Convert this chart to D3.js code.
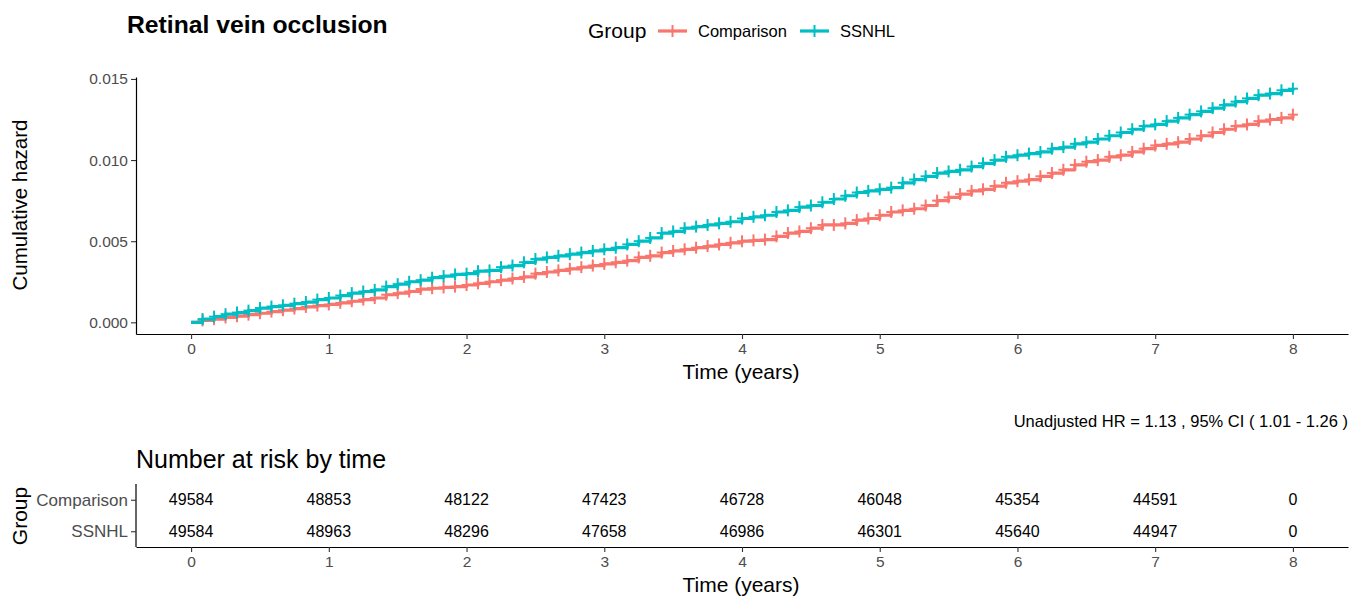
<!DOCTYPE html>
<html>
<head>
<meta charset="utf-8">
<script src="https://cdn.jsdelivr.net/npm/d3@7"></script>
<style>
  body { margin: 0; background: #fff; }
  svg { display: block; font-family: "Liberation Sans", Arial, sans-serif; }
</style>
</head>
<body>
<svg id="chart" width="1364" height="598"></svg>
<script>
// ---- Data ----
const groups = ["Comparison", "SSNHL"];
const groupColors = ["#F8766D", "#00BFC4"];
// monthly time points (months since index)
const months = [0,1,2,3,4,5,6,7,8,9,10,11,12,13,14,15,16,17,18,19,20,21,22,23,24,25,26,27,28,29,30,31,32,33,34,35,36,37,38,39,40,41,42,43,44,45,46,47,48,49,50,51,52,53,54,55,56,57,58,59,60,61,62,63,64,65,66,67,68,69,70,71,72,73,74,75,76,77,78,79,80,81,82,83,84,85,86,87,88,89,90,91,92,93,94,95,96];
const comparisonHazard = [0,0.00012,0.0002,0.0003,0.00038,0.00047,0.00056,0.00066,0.00075,0.00085,0.00095,0.00103,
  0.0011,0.0012,0.0013,0.0014,0.0015,0.0017,0.0018,0.0019,0.00205,0.0021,0.00215,0.0022,
  0.0023,0.0024,0.0025,0.0026,0.0027,0.0028,0.003,0.0031,0.0032,0.0033,0.0034,0.0035,
  0.0036,0.0037,0.0038,0.004,0.0041,0.0043,0.0044,0.0045,0.0046,0.0047,0.0048,0.0049,
  0.005,0.00505,0.0051,0.0053,0.0055,0.0056,0.0058,0.006,0.006,0.0061,0.0063,0.0064,
  0.0066,0.0068,0.0069,0.007,0.0072,0.0075,0.0077,0.0079,0.0081,0.0082,0.0084,0.0086,
  0.0087,0.0088,0.009,0.0092,0.0094,0.0097,0.0099,0.01,0.0102,0.0103,0.0105,0.0107,
  0.0109,0.011,0.0111,0.0113,0.0115,0.0117,0.0119,0.0121,0.0122,0.0124,0.0125,0.0126,
  0.0128];
const ssnhlHazard = [0,0.0002,0.00035,0.0005,0.0006,0.00072,0.00088,0.00097,0.00105,0.00115,0.00125,0.0014,
  0.0015,0.00165,0.0018,0.0019,0.002,0.0022,0.00235,0.0025,0.0026,0.00275,0.00285,0.00295,
  0.003,0.00315,0.0032,0.0034,0.0035,0.0037,0.0039,0.004,0.0041,0.0042,0.0043,0.0044,
  0.0045,0.0046,0.0048,0.005,0.0052,0.0055,0.0056,0.0058,0.0059,0.006,0.0061,0.0062,
  0.0064,0.0065,0.0066,0.0068,0.0069,0.0071,0.0072,0.0074,0.0076,0.0078,0.008,0.0081,
  0.0082,0.0083,0.0086,0.0088,0.009,0.0092,0.0093,0.0094,0.0096,0.0098,0.01,0.0102,
  0.0103,0.0104,0.0105,0.0107,0.0108,0.011,0.0111,0.0113,0.0115,0.0117,0.0119,0.0121,
  0.0122,0.0124,0.0126,0.0128,0.013,0.0132,0.0134,0.0136,0.0138,0.014,0.0141,0.0143,
  0.0144];
const xTicks = [0,1,2,3,4,5,6,7,8];
const yTicks = [0, 0.005, 0.010, 0.015];
const riskTimes = [0,1,2,3,4,5,6,7,8];
const comparisonRisk = [49584,48853,48122,47423,46728,46048,45354,44591,0];
const ssnhlRisk = [49584,48963,48296,47658,46986,46301,45640,44947,0];
const titleText = "Retinal vein occlusion";
const hrText = "Unadjusted HR = 1.13 , 95% CI ( 1.01 - 1.26 )";

// ---- Setup ----
const svg = d3.select("#chart");
const x = d3.scaleLinear().domain([-0.4, 8.4]).range([136, 1348]);
const y = d3.scaleLinear().domain([-0.00072, 0.01512]).range([334, 77]);
const gray = "#4D4D4D";

const series = [comparisonHazard, ssnhlHazard].map((vals, i) => ({
  name: groups[i], color: groupColors[i],
  pts: months.map((m, j) => ({ t: m / 12, v: vals[j] }))
}));

// ---- Title ----
svg.append("text").attr("x", 127).attr("y", 33)
  .attr("font-size", 24.7).attr("font-weight", "bold").attr("fill", "#000")
  .text(titleText);

// ---- Legend ----
const lg = svg.append("g");
lg.append("text").attr("x", 588).attr("y", 38).attr("font-size", 21).attr("fill", "#000").text("Group");
const legendItems = [{ x0: 658, tx: 698 }, { x0: 800, tx: 840 }];
legendItems.forEach((it, i) => {
  lg.append("line").attr("x1", it.x0).attr("x2", it.x0 + 29).attr("y1", 31).attr("y2", 31)
    .attr("stroke", groupColors[i]).attr("stroke-width", 3.2);
  lg.append("line").attr("x1", it.x0 + 14.5).attr("x2", it.x0 + 14.5).attr("y1", 25).attr("y2", 37)
    .attr("stroke", groupColors[i]).attr("stroke-width", 2);
  lg.append("line").attr("x1", it.x0 + 8.5).attr("x2", it.x0 + 20.5).attr("y1", 31).attr("y2", 31)
    .attr("stroke", groupColors[i]).attr("stroke-width", 2);
  lg.append("text").attr("x", it.tx).attr("y", 37).attr("font-size", 16.5).attr("fill", "#000").text(groups[i]);
});

// ---- Main axes ----
const yAxis = svg.append("g").attr("transform", "translate(136,0)")
  .call(d3.axisLeft(y).tickValues(yTicks).tickFormat(d3.format(".3f")).tickSize(5).tickSizeOuter(0));
const xAxis = svg.append("g").attr("transform", "translate(0,334)")
  .call(d3.axisBottom(x).tickValues(xTicks).tickFormat(d3.format("d")).tickSize(5).tickSizeOuter(0));
[yAxis, xAxis].forEach(a => {
  a.select(".domain").attr("stroke", "#000").attr("stroke-width", 1.2);
  a.selectAll(".tick line").attr("stroke", "#333").attr("stroke-width", 1.1);
  a.selectAll(".tick text").attr("fill", gray).attr("font-size", 15.5)
    .attr("font-family", "Liberation Sans, Arial, sans-serif");
});
yAxis.selectAll(".tick text").attr("x", -8);
xAxis.selectAll(".tick text").attr("y", 9);

svg.append("text").attr("transform", "translate(27,205) rotate(-90)")
  .attr("text-anchor", "middle").attr("font-size", 20.5).attr("fill", "#000").text("Cumulative hazard");
svg.append("text").attr("x", 741).attr("y", 379)
  .attr("text-anchor", "middle").attr("font-size", 21).attr("fill", "#000").text("Time (years)");

// ---- Curves ----
const line = d3.line().x(d => x(d.t)).y(d => y(d.v)).curve(d3.curveStepAfter);
series.forEach(s => {
  svg.append("path").datum(s.pts).attr("d", line)
    .attr("fill", "none").attr("stroke", s.color).attr("stroke-width", 3.2)
    .attr("stroke-linejoin", "round");
  const marks = svg.append("g");
  s.pts.slice(1).forEach(p => {
    const cx = x(p.t), cy = y(p.v);
    marks.append("line").attr("x1", cx).attr("x2", cx).attr("y1", cy - 6).attr("y2", cy + 6)
      .attr("stroke", s.color).attr("stroke-width", 2);
    marks.append("line").attr("x1", cx - 5).attr("x2", cx + 5).attr("y1", cy).attr("y2", cy)
      .attr("stroke", s.color).attr("stroke-width", 2);
  });
});

// ---- HR text ----
svg.append("text").attr("x", 1348).attr("y", 427).attr("text-anchor", "end")
  .attr("font-size", 16.5).attr("fill", "#000").text(hrText);

// ---- Risk table ----
svg.append("text").attr("x", 136).attr("y", 468).attr("font-size", 25).attr("fill", "#000")
  .text("Number at risk by time");
const yr = d3.scalePoint().domain(groups).range([484, 547]).padding(0.5);
const tyAxis = svg.append("g").attr("transform", "translate(136,0)")
  .call(d3.axisLeft(yr).tickSize(5).tickSizeOuter(0));
const txAxis = svg.append("g").attr("transform", "translate(0,547)")
  .call(d3.axisBottom(x).tickValues(xTicks).tickFormat(d3.format("d")).tickSize(5).tickSizeOuter(0));
[tyAxis, txAxis].forEach(a => {
  a.select(".domain").attr("stroke", "#000").attr("stroke-width", 1.2);
  a.selectAll(".tick line").attr("stroke", "#333").attr("stroke-width", 1.1);
  a.selectAll(".tick text").attr("fill", gray).attr("font-size", 15.5)
    .attr("font-family", "Liberation Sans, Arial, sans-serif");
});
tyAxis.selectAll(".tick text").attr("x", -8).attr("font-size", 17);
txAxis.selectAll(".tick text").attr("y", 9);
tyAxis.select(".domain").attr("d", "M0,484V547");

[comparisonRisk, ssnhlRisk].forEach((arr, i) => {
  svg.append("g").selectAll("text").data(arr).join("text")
    .attr("x", (d, j) => x(riskTimes[j])).attr("y", yr(groups[i]))
    .attr("dy", "0.35em").attr("text-anchor", "middle")
    .attr("font-size", 16).attr("fill", "#000").text(d => d);
});

svg.append("text").attr("transform", "translate(27,516) rotate(-90)")
  .attr("text-anchor", "middle").attr("font-size", 21).attr("fill", "#000").text("Group");
svg.append("text").attr("x", 741).attr("y", 592)
  .attr("text-anchor", "middle").attr("font-size", 21).attr("fill", "#000").text("Time (years)");
</script>
</body>
</html>
